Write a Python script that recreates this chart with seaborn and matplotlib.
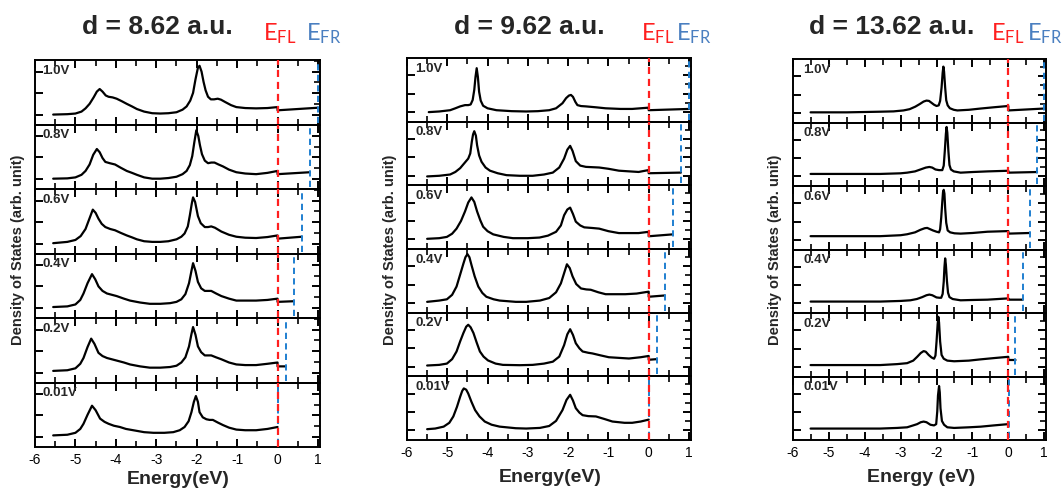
import matplotlib
matplotlib.use("Agg")
import matplotlib.pyplot as plt
import seaborn as sns
from matplotlib.ticker import FixedLocator, MultipleLocator

# ---------------- data ----------------
voltages = ["1.0V", "0.8V", "0.6V", "0.4V", "0.2V", "0.01V"]
bias = [1.0, 0.8, 0.6, 0.4, 0.2, 0.01]
separations = ["d = 8.62 a.u.", "d = 9.62 a.u.", "d = 13.62 a.u."]
energy_ticks = [-6, -5, -4, -3, -2, -1, 0, 1]

# d = 8.62 a.u.  (energy in eV, DOS in arbitrary units)
energy_862 = {
    "1.0V": [-5.55, -5.2, -5.0, -4.85, -4.75, -4.65, -4.55, -4.47, -4.40, -4.33, -4.25, -4.18, -4.08, -3.98, -3.85, -3.73, -3.6, -3.48, -3.3, -3.1, -2.9, -2.7, -2.5, -2.35, -2.25, -2.16, -2.09, -2.03, -1.97, -1.93, -1.88, -1.83, -1.78, -1.72, -1.65, -1.57, -1.48, -1.4, -1.3, -1.15, -1.02, -0.8, -0.53, -0.25, 0.0, 0.0, 0.5, 1.0],
    "0.8V": [-5.55, -5.2, -5.0, -4.85, -4.75, -4.65, -4.56, -4.47, -4.40, -4.33, -4.26, -4.15, -4.02, -3.88, -3.73, -3.6, -3.48, -3.3, -3.1, -2.9, -2.7, -2.5, -2.35, -2.25, -2.17, -2.11, -2.06, -2.01, -1.96, -1.92, -1.87, -1.80, -1.72, -1.64, -1.56, -1.46, -1.35, -1.2, -1.02, -0.8, -0.53, -0.25, 0.0, 0.0, 0.4, 0.8],
    "0.6V": [-5.55, -5.2, -5.0, -4.87, -4.75, -4.66, -4.57, -4.50, -4.43, -4.35, -4.26, -4.14, -4.02, -3.88, -3.73, -3.6, -3.48, -3.3, -3.1, -2.9, -2.7, -2.5, -2.38, -2.3, -2.22, -2.17, -2.12, -2.09, -2.04, -1.97, -1.9, -1.8, -1.72, -1.64, -1.55, -1.39, -1.2, -1.02, -0.8, -0.53, -0.25, 0.0, 0.0, 0.3, 0.6],
    "0.4V": [-5.55, -5.2, -5.0, -4.88, -4.8, -4.7, -4.59, -4.51, -4.43, -4.33, -4.22, -4.1, -3.98, -3.8, -3.65, -3.4, -3.16, -2.9, -2.66, -2.5, -2.38, -2.28, -2.19, -2.13, -2.09, -2.03, -1.97, -1.89, -1.8, -1.72, -1.64, -1.52, -1.39, -1.2, -1.02, -0.8, -0.53, -0.25, 0.0, 0.0, 0.4],
    "0.2V": [-5.55, -5.2, -5.0, -4.88, -4.8, -4.7, -4.61, -4.53, -4.43, -4.33, -4.22, -4.1, -3.98, -3.8, -3.65, -3.4, -3.16, -2.9, -2.66, -2.5, -2.38, -2.28, -2.19, -2.13, -2.09, -2.03, -1.97, -1.89, -1.8, -1.72, -1.64, -1.52, -1.39, -1.2, -1.02, -0.8, -0.53, -0.25, 0.0, 0.0, 0.2],
    "0.01V": [-5.55, -5.2, -5.0, -4.88, -4.8, -4.7, -4.59, -4.5, -4.39, -4.28, -4.18, -4.05, -3.9, -3.75, -3.57, -3.3, -3.07, -2.8, -2.58, -2.42, -2.3, -2.2, -2.13, -2.07, -2.02, -1.97, -1.93, -1.85, -1.76, -1.68, -1.6, -1.48, -1.35, -1.2, -1.02, -0.8, -0.53, -0.25, 0.0],
}
dos_862 = {
    "1.0V": [0.154, 0.16, 0.17, 0.20, 0.25, 0.32, 0.42, 0.51, 0.55, 0.51, 0.45, 0.43, 0.42, 0.40, 0.36, 0.32, 0.28, 0.24, 0.20, 0.175, 0.17, 0.175, 0.19, 0.23, 0.28, 0.37, 0.49, 0.70, 0.88, 0.91, 0.82, 0.66, 0.53, 0.43, 0.39, 0.39, 0.40, 0.385, 0.35, 0.30, 0.27, 0.255, 0.25, 0.255, 0.27, 0.22, 0.24, 0.26],
    "0.8V": [0.16, 0.165, 0.18, 0.22, 0.28, 0.38, 0.53, 0.62, 0.57, 0.48, 0.42, 0.40, 0.38, 0.33, 0.28, 0.25, 0.22, 0.18, 0.16, 0.16, 0.17, 0.19, 0.23, 0.28, 0.37, 0.51, 0.72, 0.91, 0.82, 0.68, 0.54, 0.44, 0.40, 0.41, 0.41, 0.38, 0.35, 0.30, 0.26, 0.24, 0.23, 0.25, 0.28, 0.23, 0.245, 0.26],
    "0.6V": [0.16, 0.18, 0.21, 0.27, 0.38, 0.53, 0.68, 0.63, 0.54, 0.46, 0.41, 0.38, 0.36, 0.32, 0.28, 0.25, 0.22, 0.19, 0.18, 0.18, 0.19, 0.22, 0.26, 0.31, 0.42, 0.59, 0.78, 0.87, 0.80, 0.58, 0.47, 0.41, 0.41, 0.42, 0.40, 0.34, 0.29, 0.26, 0.245, 0.24, 0.255, 0.28, 0.23, 0.245, 0.26],
    "0.4V": [0.17, 0.18, 0.21, 0.28, 0.38, 0.54, 0.68, 0.60, 0.49, 0.42, 0.38, 0.36, 0.34, 0.30, 0.27, 0.24, 0.22, 0.22, 0.23, 0.25, 0.29, 0.37, 0.54, 0.73, 0.85, 0.73, 0.56, 0.46, 0.42, 0.42, 0.42, 0.38, 0.34, 0.30, 0.27, 0.27, 0.27, 0.28, 0.30, 0.25, 0.26],
    "0.2V": [0.18, 0.19, 0.22, 0.29, 0.38, 0.55, 0.68, 0.60, 0.46, 0.41, 0.38, 0.36, 0.34, 0.31, 0.28, 0.25, 0.23, 0.23, 0.24, 0.26, 0.31, 0.39, 0.56, 0.75, 0.86, 0.74, 0.56, 0.47, 0.42, 0.42, 0.42, 0.39, 0.36, 0.31, 0.28, 0.27, 0.27, 0.29, 0.31, 0.25, 0.25],
    "0.01V": [0.18, 0.19, 0.22, 0.28, 0.36, 0.50, 0.64, 0.57, 0.44, 0.39, 0.36, 0.33, 0.31, 0.28, 0.26, 0.23, 0.22, 0.22, 0.23, 0.26, 0.31, 0.40, 0.54, 0.70, 0.79, 0.70, 0.54, 0.46, 0.43, 0.42, 0.42, 0.38, 0.34, 0.30, 0.27, 0.26, 0.26, 0.28, 0.31],
}

# d = 9.62 a.u.
energy_962 = {
    "1.0V": [-5.46, -5.2, -4.93, -4.8, -4.68, -4.56, -4.48, -4.42, -4.37, -4.33, -4.30, -4.27, -4.24, -4.21, -4.17, -4.11, -4.0, -3.78, -3.4, -3.04, -2.75, -2.47, -2.3, -2.14, -2.05, -1.98, -1.93, -1.88, -1.82, -1.77, -1.68, -1.56, -1.3, -1.07, -0.7, -0.41, 0.0, 0.0, 0.5, 1.0],
    "0.8V": [-5.5, -5.2, -4.93, -4.8, -4.68, -4.56, -4.48, -4.43, -4.39, -4.36, -4.33, -4.29, -4.26, -4.21, -4.15, -4.05, -3.94, -3.75, -3.53, -3.2, -2.88, -2.6, -2.38, -2.22, -2.1, -2.02, -1.95, -1.89, -1.81, -1.7, -1.56, -1.4, -1.23, -1.0, -0.74, -0.5, -0.25, 0.0, 0.0, 0.4, 0.8],
    "0.6V": [-5.5, -5.2, -5.01, -4.88, -4.77, -4.66, -4.56, -4.48, -4.4, -4.33, -4.26, -4.18, -4.11, -4.0, -3.86, -3.6, -3.37, -3.0, -2.71, -2.5, -2.3, -2.18, -2.1, -2.02, -1.95, -1.88, -1.81, -1.7, -1.6, -1.4, -1.23, -1.0, -0.74, -0.25, 0.0, 0.0, 0.3, 0.6],
    "0.4V": [-5.5, -5.2, -5.01, -4.88, -4.77, -4.68, -4.6, -4.55, -4.5, -4.45, -4.4, -4.32, -4.23, -4.13, -4.03, -3.85, -3.7, -3.3, -3.04, -2.7, -2.47, -2.3, -2.18, -2.1, -2.03, -1.96, -1.89, -1.8, -1.68, -1.55, -1.44, -1.25, -1.07, -0.58, -0.3, 0.0, 0.0, 0.4],
    "0.2V": [-5.5, -5.2, -5.01, -4.88, -4.77, -4.68, -4.6, -4.53, -4.48, -4.42, -4.35, -4.27, -4.19, -4.1, -3.99, -3.8, -3.62, -3.2, -2.88, -2.6, -2.38, -2.22, -2.1, -2.02, -1.95, -1.88, -1.81, -1.72, -1.64, -1.5, -1.4, -1.2, -0.99, -0.49, -0.2, 0.0, 0.0, 0.2],
    "0.01V": [-5.5, -5.3, -5.09, -4.95, -4.85, -4.76, -4.68, -4.63, -4.59, -4.53, -4.48, -4.4, -4.31, -4.2, -4.07, -3.9, -3.7, -3.3, -3.04, -2.7, -2.47, -2.3, -2.14, -2.04, -1.95, -1.88, -1.81, -1.72, -1.64, -1.5, -1.31, -1.1, -0.9, -0.6, -0.41, -0.2, 0.0],
}
dos_962 = {
    "1.0V": [0.15, 0.16, 0.18, 0.21, 0.24, 0.26, 0.26, 0.27, 0.34, 0.50, 0.70, 0.84, 0.70, 0.47, 0.33, 0.25, 0.21, 0.18, 0.165, 0.16, 0.165, 0.18, 0.21, 0.29, 0.37, 0.41, 0.42, 0.39, 0.31, 0.26, 0.245, 0.24, 0.225, 0.21, 0.20, 0.20, 0.22, 0.18, 0.19, 0.20],
    "0.8V": [0.14, 0.15, 0.17, 0.21, 0.27, 0.36, 0.42, 0.50, 0.69, 0.80, 0.85, 0.78, 0.63, 0.47, 0.37, 0.28, 0.23, 0.19, 0.16, 0.15, 0.15, 0.17, 0.20, 0.28, 0.42, 0.56, 0.62, 0.54, 0.38, 0.31, 0.29, 0.285, 0.28, 0.26, 0.23, 0.22, 0.21, 0.24, 0.19, 0.195, 0.20],
    "0.6V": [0.16, 0.17, 0.19, 0.24, 0.32, 0.44, 0.59, 0.73, 0.81, 0.74, 0.59, 0.45, 0.35, 0.28, 0.23, 0.19, 0.17, 0.17, 0.18, 0.21, 0.27, 0.37, 0.53, 0.62, 0.65, 0.55, 0.43, 0.37, 0.34, 0.33, 0.32, 0.28, 0.25, 0.25, 0.27, 0.20, 0.215, 0.23],
    "0.4V": [0.17, 0.19, 0.21, 0.28, 0.41, 0.60, 0.77, 0.87, 0.92, 0.87, 0.75, 0.57, 0.41, 0.31, 0.25, 0.21, 0.19, 0.17, 0.17, 0.19, 0.23, 0.32, 0.46, 0.62, 0.76, 0.70, 0.57, 0.45, 0.38, 0.365, 0.36, 0.32, 0.29, 0.29, 0.30, 0.33, 0.25, 0.27],
    "0.2V": [0.17, 0.18, 0.20, 0.27, 0.39, 0.55, 0.68, 0.78, 0.81, 0.77, 0.68, 0.53, 0.39, 0.31, 0.25, 0.20, 0.18, 0.175, 0.18, 0.20, 0.23, 0.31, 0.49, 0.66, 0.74, 0.65, 0.52, 0.44, 0.39, 0.37, 0.36, 0.33, 0.30, 0.28, 0.30, 0.32, 0.26, 0.27],
    "0.01V": [0.17, 0.18, 0.21, 0.27, 0.37, 0.52, 0.68, 0.77, 0.81, 0.79, 0.73, 0.60, 0.47, 0.37, 0.29, 0.24, 0.21, 0.185, 0.18, 0.19, 0.22, 0.30, 0.47, 0.63, 0.71, 0.62, 0.50, 0.43, 0.39, 0.375, 0.37, 0.33, 0.29, 0.27, 0.27, 0.29, 0.32],
}

# d = 13.62 a.u.
energy_1362 = {
    "1.0V": [-5.51, -4.5, -3.57, -3.2, -2.92, -2.75, -2.59, -2.47, -2.36, -2.28, -2.21, -2.14, -2.07, -2.0, -1.94, -1.9, -1.86, -1.83, -1.81, -1.79, -1.76, -1.73, -1.69, -1.63, -1.52, -1.42, -1.1, -0.77, -0.4, 0.0, 0.0, 0.5, 1.0],
    "0.8V": [-5.51, -3.57, -3.0, -2.82, -2.6, -2.45, -2.3, -2.2, -2.12, -2.03, -1.93, -1.84, -1.8, -1.77, -1.74, -1.72, -1.7, -1.67, -1.64, -1.6, -1.52, -1.33, -1.0, -0.58, 0.0, 0.0, 0.4, 0.8],
    "0.6V": [-5.51, -3.57, -3.0, -2.82, -2.6, -2.45, -2.33, -2.26, -2.18, -2.1, -2.0, -1.93, -1.9, -1.87, -1.84, -1.82, -1.8, -1.78, -1.76, -1.73, -1.69, -1.62, -1.5, -1.33, -1.0, -0.58, 0.0, 0.0, 0.6],
    "0.4V": [-5.51, -3.57, -3.0, -2.73, -2.55, -2.4, -2.28, -2.2, -2.12, -2.0, -1.92, -1.87, -1.83, -1.8, -1.78, -1.76, -1.74, -1.71, -1.68, -1.64, -1.55, -1.33, -1.0, -0.58, 0.0, 0.0, 0.4],
    "0.2V": [-5.51, -3.57, -3.1, -2.82, -2.65, -2.54, -2.44, -2.36, -2.3, -2.22, -2.14, -2.07, -2.03, -2.0, -1.97, -1.95, -1.93, -1.9, -1.86, -1.8, -1.7, -1.51, -1.1, -0.77, -0.4, 0.0, 0.0, 0.2],
    "0.01V": [-5.51, -3.57, -3.1, -2.82, -2.65, -2.54, -2.44, -2.36, -2.28, -2.17, -2.07, -2.01, -1.98, -1.96, -1.93, -1.91, -1.89, -1.85, -1.79, -1.7, -1.51, -1.1, -0.77, -0.4, 0.0],
}
dos_1362 = {
    "1.0V": [0.16, 0.16, 0.17, 0.175, 0.19, 0.21, 0.25, 0.29, 0.33, 0.345, 0.34, 0.31, 0.28, 0.26, 0.27, 0.34, 0.55, 0.78, 0.88, 0.80, 0.55, 0.35, 0.27, 0.225, 0.20, 0.19, 0.20, 0.22, 0.24, 0.26, 0.19, 0.205, 0.22],
    "0.8V": [0.19, 0.19, 0.20, 0.21, 0.23, 0.26, 0.29, 0.30, 0.29, 0.26, 0.25, 0.25, 0.32, 0.55, 0.82, 0.93, 0.84, 0.55, 0.33, 0.26, 0.23, 0.21, 0.22, 0.23, 0.24, 0.21, 0.215, 0.22],
    "0.6V": [0.21, 0.21, 0.225, 0.24, 0.27, 0.31, 0.335, 0.34, 0.32, 0.30, 0.28, 0.27, 0.32, 0.50, 0.75, 0.90, 0.94, 0.88, 0.65, 0.42, 0.30, 0.27, 0.255, 0.25, 0.26, 0.28, 0.29, 0.25, 0.26],
    "0.4V": [0.18, 0.18, 0.19, 0.20, 0.22, 0.25, 0.28, 0.29, 0.28, 0.245, 0.24, 0.24, 0.30, 0.49, 0.72, 0.86, 0.76, 0.50, 0.32, 0.25, 0.22, 0.20, 0.205, 0.21, 0.23, 0.21, 0.21],
    "0.2V": [0.18, 0.18, 0.195, 0.21, 0.25, 0.31, 0.37, 0.40, 0.39, 0.34, 0.30, 0.28, 0.33, 0.55, 0.82, 0.94, 0.85, 0.55, 0.34, 0.28, 0.25, 0.24, 0.25, 0.27, 0.29, 0.31, 0.26, 0.26],
    "0.01V": [0.18, 0.18, 0.19, 0.20, 0.23, 0.25, 0.28, 0.29, 0.28, 0.24, 0.23, 0.25, 0.45, 0.70, 0.85, 0.75, 0.50, 0.30, 0.24, 0.20, 0.19, 0.20, 0.21, 0.23, 0.25],
}

energies = [energy_862, energy_962, energy_1362]
doses = [dos_862, dos_962, dos_1362]
ytick_sets = [[0.15, 0.49, 0.82], [0.15, 0.44, 0.73], [0.15, 0.44, 0.73]]
xlabels = ["Energy(eV)", "Energy(eV)", "Energy (eV)"]

# ---------------- style ----------------
sns.set_style("ticks")
plt.rcParams["font.family"] = ["Liberation Sans", "DejaVu Sans"]
plt.rcParams.update({
    "axes.unicode_minus": False,
    "xtick.direction": "in", "ytick.direction": "in",
    "xtick.top": True, "ytick.right": True,
    "xtick.bottom": True, "ytick.left": True,
    "xtick.color": "black", "ytick.color": "black",
})

RED = "#ff1f1f"
BLUE = "#1f7fd0"

fig = plt.figure(figsize=(10.62, 4.93), dpi=100)

panel_boxes = [
    (35 / 1062, 320 / 1062, 60, 447),
    (407 / 1062, 691 / 1062, 58, 440),
    (793 / 1062, 1046 / 1062, 59, 440),
]
label_inset = [0.025, 0.03, 0.04]
ylabel_x = [18 / 1062, 390 / 1062, 775 / 1062]
xlabel_xy = [(178, 480), (550, 477), (921, 478)]
title_x = [157, 529, 892]
efl_x = [263, 641, 991]
efr_x = [306, 676, 1027]

for p in range(3):
    left, right, top_px, bot_px = panel_boxes[p]
    h_px = (bot_px - top_px) / 6
    for i, v in enumerate(voltages):
        y_top = 1 - (top_px + i * h_px) / 493
        ax = fig.add_axes([left, y_top - h_px / 493, right - left, h_px / 493])
        ax.patch.set_alpha(0)
        sns.lineplot(x=energies[p][v], y=doses[p][v], ax=ax, color="black",
                     linewidth=1.6, estimator=None, sort=False)
        ax.axvline(bias[i], ymin=0.03, ymax=0.97, color=BLUE, linestyle=(0, (3.2, 2.2)),
                   linewidth=1.4, zorder=2)
        ax.axvline(0, color=RED, linestyle=(0, (3.2, 2.2)), linewidth=1.6, zorder=3)
        ax.set_xlim(-6, 1.05)
        ax.set_ylim(0, 1)
        ax.xaxis.set_major_locator(FixedLocator(energy_ticks))
        ax.xaxis.set_minor_locator(MultipleLocator(0.5))
        yt = ytick_sets[p]
        ax.yaxis.set_major_locator(FixedLocator(yt))
        ax.yaxis.set_minor_locator(FixedLocator([(yt[0] + yt[1]) / 2, (yt[1] + yt[2]) / 2,
                                                 yt[2] + (yt[2] - yt[1]) / 2]))
        ax.tick_params(axis="both", which="both", direction="in", top=True, right=True,
                       bottom=True, left=True, color="black")
        ax.tick_params(axis="both", which="major", length=5.5, width=1.4)
        ax.tick_params(axis="both", which="minor", length=4, width=1.2)
        ax.tick_params(axis="y", which="minor", left=False)
        ax.set_yticklabels([])
        ax.set_xlabel("")
        ax.set_ylabel("")
        if i < 5:
            ax.set_xticklabels([])
        else:
            ax.set_xticklabels([str(t) for t in energy_ticks], fontsize=10)
            ax.tick_params(axis="x", which="major", pad=4)
        for s in ax.spines.values():
            s.set_linewidth(1.4)
            s.set_color("black")
        ax.text(label_inset[p], 0.83, v, transform=ax.transAxes, fontsize=9.5,
                fontweight="bold", ha="left", va="center")

    fig.text(ylabel_x[p], 1 - 250 / 493, "Density of States (arb. unit)", rotation=90,
             ha="center", va="center", fontsize=10.5, fontweight="bold")
    fig.text(xlabel_xy[p][0] / 1062, 1 - xlabel_xy[p][1] / 493, xlabels[p],
             ha="center", va="center", fontsize=14, fontweight="bold")
    fig.text(title_x[p] / 1062, 1 - 27 / 493, separations[p], ha="center", va="center",
             fontsize=19, fontweight="bold")
    fig.text(efl_x[p] / 1062, 1 - 34 / 493, r"$\mathregular{E_{FL}}$", ha="left",
             va="center", fontsize=17, color=RED, family=["Lato", "DejaVu Sans"])
    fig.text(efr_x[p] / 1062, 1 - 34 / 493, r"$\mathregular{E_{FR}}$", ha="left",
             va="center", fontsize=17, color="#4a7fc0", family=["Lato", "DejaVu Sans"])

fig.savefig("out.png", dpi=100)
